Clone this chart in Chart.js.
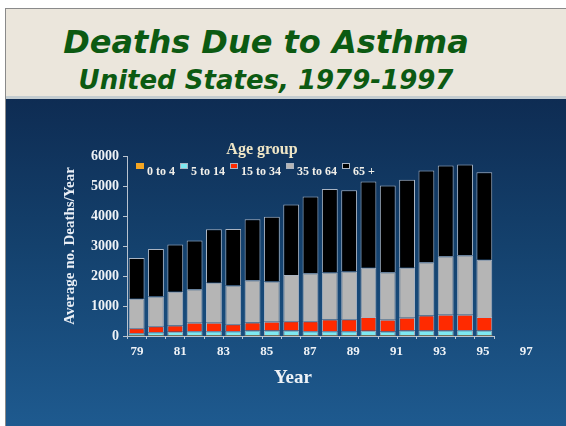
<!DOCTYPE html>
<html>
<head>
<meta charset="utf-8">
<title>Deaths Due to Asthma</title>
<script src="https://cdn.jsdelivr.net/npm/chart.js@4.4.1/dist/chart.umd.min.js"></script>
<style>
  html, body { margin: 0; padding: 0; background: #fff; }
  #page { position: relative; width: 566px; height: 426px; overflow: hidden; }
  .frame { position: absolute; left: 5px; top: 8px; right: 0; bottom: 0;
           border-left: 1px solid #8a8a8a; border-top: 1px solid #8a8a8a; }
  .paper { position: absolute; left: 6px; top: 9px; right: 0; height: 87px; background: #ebe6dc; }
  .panel { position: absolute; left: 6px; top: 96px; right: 0; bottom: 0;
           border-top: 3px solid #c3ccd0;
           background: linear-gradient(#0e2c53 0%, #14416d 45%, #1e5a8f 100%); }
  .ttl { position: absolute; left: 0; width: 532px; text-align: center; white-space: nowrap;
         font-family: "DejaVu Sans", sans-serif; font-weight: 700; font-style: italic;
         color: #0c5a12; line-height: 1; }
  #t1 { top: 26px; font-size: 32px; }
  #t2 { top: 67px; font-size: 26px; }
  canvas { position: absolute; left: 0; top: 0; }
  .serif { font-family: "Liberation Serif", "Times New Roman", serif; font-weight: 700; line-height: 1; }
  #legend-title { position: absolute; left: 212px; width: 100px; top: 141px; text-align: center;
                  font-size: 16px; color: #efe6c6; }
  #legend-items { position: absolute; left: 136px; top: 165px; margin: 0; padding: 0;
                  list-style: none; display: flex; gap: 5px; font-size: 12px; color: #f2f0ea; }
  #legend-items li { display: flex; align-items: flex-start; white-space: nowrap; }
  #legend-items .box { display: inline-block; width: 6px; height: 4px; margin: -2px 3px 0 0;
                       border: 1px solid; }
  #xtitle { position: absolute; left: 243px; width: 100px; top: 367px; text-align: center;
            font-size: 19px; color: #eef2f6; }
</style>
</head>
<body>
<div id="page">
  <div class="frame"></div>
  <div class="paper"></div>
  <div class="panel"></div>
  <div class="ttl" id="t1">Deaths Due to Asthma</div>
  <div class="ttl" id="t2">United States, 1979-1997</div>
  <canvas id="asthmaChart" width="566" height="426"></canvas>
  <div class="serif" id="legend-title">Age group</div>
  <ul class="serif" id="legend-items"></ul>
  <div class="serif" id="xtitle">Year</div>
</div>
<script>
// one bar per year, stacked by age group
const years = ['1979','1980','1981','1982','1983','1984','1985','1986','1987','1988',
               '1989','1990','1991','1992','1993','1994','1995','1996','1997'];
const yearTicks = [79, 81, 83, 85, 87, 89, 91, 93, 95, 97];
const ageGroups = ['0 to 4', '5 to 14', '15 to 34', '35 to 64', '65 +'];

const age0to4   = [30, 30, 30, 30, 30, 30, 30, 30, 30, 30, 30, 30, 30, 30, 30, 30, 30, 30, 30];
const age5to14  = [65, 95, 110, 130, 130, 130, 155, 155, 155, 130, 130, 130, 145, 120, 155, 155, 155, 165, 155];
const age15to34 = [165, 200, 210, 280, 280, 235, 265, 290, 310, 335, 390, 400, 455, 390, 425, 500, 525, 515, 445];
const age35to64 = [980, 990, 1125, 1120, 1335, 1290, 1410, 1345, 1535, 1600, 1565, 1590, 1645, 1585, 1665, 1775, 1945, 1985, 1915];
const age65up   = [1360, 1585, 1575, 1620, 1785, 1885, 2030, 2155, 2355, 2555, 2785, 2710, 2875, 2895, 2935, 3060, 3030, 3025, 2910];

const axisColor = '#b9c3cf';
const tickFont = { family: '"Liberation Serif", "Times New Roman", serif', weight: 'bold' };

// legend is drawn as html so it can sit over the plot like on the slide
const htmlLegend = {
    id: 'htmlLegend',
    afterUpdate(chart) {
        const list = document.getElementById('legend-items');
        list.innerHTML = '';
        chart.options.plugins.legend.labels.generateLabels(chart).forEach(item => {
            const li = document.createElement('li');
            const box = document.createElement('span');
            box.className = 'box';
            box.style.background = item.fillStyle;
            box.style.borderColor = item.strokeStyle;
            const txt = document.createElement('span');
            txt.textContent = item.text;
            li.append(box, txt);
            list.appendChild(li);
        });
    }
};

const seg = (label, data, color, border) => ({
    label, data, backgroundColor: color,
    borderColor: border || '#aab4c2', borderWidth: border ? 0 : 1,
    categoryPercentage: 1, barPercentage: 0.82
});

new Chart(document.getElementById('asthmaChart'), {
    type: 'bar',
    data: {
        labels: years,
        datasets: [
            seg(ageGroups[0], age0to4, '#f5a623', '#f5a623'),
            seg(ageGroups[1], age5to14, '#7ee9f2'),
            seg(ageGroups[2], age15to34, '#ff2a00'),
            seg(ageGroups[3], age35to64, '#b5b5b5'),
            seg(ageGroups[4], age65up, '#000000')
        ]
    },
    options: {
        responsive: false,
        animation: false,
        layout: { padding: { left: 61, right: 72, top: 156, bottom: 60 } },
        plugins: { legend: { display: false }, tooltip: { enabled: false } },
        scales: {
            x: {
                stacked: true,
                weight: 0,
                ticks: { display: false },
                grid: { drawOnChartArea: false, tickLength: 3, color: axisColor, offset: true },
                border: { color: axisColor },
                afterFit: s => { s.height = 4; }
            },
            // the slide's year labels are spaced wider than the bars
            yr: {
                type: 'linear',
                position: 'bottom',
                weight: 1,
                offset: false,
                min: 78.54,
                max: 95.51,
                afterBuildTicks: s => { s.ticks = yearTicks.map(v => ({ value: v })); },
                ticks: { autoSkip: false, maxRotation: 0, padding: 4, color: '#eef2f6',
                         font: { ...tickFont, size: 13 }, callback: v => String(v) },
                grid: { display: false, drawTicks: false, offset: false },
                border: { display: false },
                afterFit: s => { s.height = 26; }
            },
            y: {
                stacked: true,
                min: 0,
                max: 6000,
                ticks: { stepSize: 1000, padding: 4, color: '#eef2f6', font: { ...tickFont, size: 14 },
                         callback: v => String(v) },
                grid: { drawOnChartArea: false, tickLength: 4, color: axisColor },
                border: { color: axisColor },
                title: { display: true, text: 'Average no. Deaths/Year', color: '#e9eef5', padding: 0,
                         font: { ...tickFont, size: 15 } },
                afterFit: s => { s.width = 66; }
            }
        }
    },
    plugins: [htmlLegend]
});
</script>
</body>
</html>
